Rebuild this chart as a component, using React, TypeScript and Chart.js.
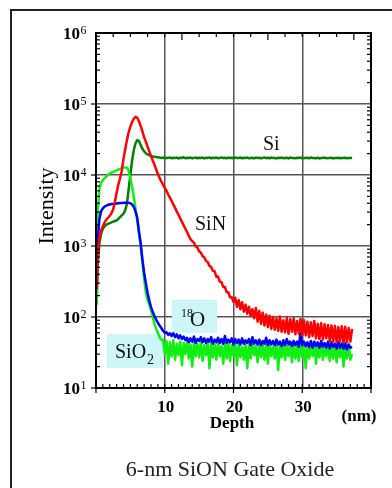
import { useEffect, useRef } from 'react';
import { Chart, registerables } from 'chart.js';

Chart.register(...registerables);

// Depth (nm) sampling of the profiles
const depth = [
  0.1,
  0.25, 0.5, 0.75, 1, 1.25, 1.5, 1.75, 2, 2.25, 2.5, 2.75, 3, 3.25, 3.5, 3.75, 4, 4.25, 4.5, 4.75, 5,
  5.25, 5.5, 5.75, 6, 6.25, 6.5, 6.75, 7, 7.25, 7.5, 7.75, 8, 8.25, 8.5, 8.75, 9, 9.25, 9.5, 9.75, 10,
  10.25, 10.5, 10.75, 11, 11.25, 11.5, 11.75, 12, 12.25, 12.5, 12.75, 13, 13.25, 13.5, 13.75, 14, 14.25, 14.5, 14.75, 15,
  15.25, 15.5, 15.75, 16, 16.25, 16.5, 16.75, 17, 17.25, 17.5, 17.75, 18, 18.25, 18.5, 18.75, 19, 19.25, 19.5, 19.75, 20,
  20.25, 20.5, 20.75, 21, 21.25, 21.5, 21.75, 22, 22.25, 22.5, 22.75, 23, 23.25, 23.5, 23.75, 24, 24.25, 24.5, 24.75, 25,
  25.25, 25.5, 25.75, 26, 26.25, 26.5, 26.75, 27, 27.25, 27.5, 27.75, 28, 28.25, 28.5, 28.75, 29, 29.25, 29.5, 29.75, 30,
  30.25, 30.5, 30.75, 31, 31.25, 31.5, 31.75, 32, 32.25, 32.5, 32.75, 33, 33.25, 33.5, 33.75, 34, 34.25, 34.5, 34.75, 35,
  35.25, 35.5, 35.75, 36, 36.25, 36.5, 36.75, 37, 37.25,
];

// SiN intensity (red)
const siN = [
  250,
  800, 1300, 1650, 1900, 2150, 2350, 2500, 2650, 2900, 3300, 4200, 5600, 7400, 9000, 11500, 17000, 23000, 31000, 40000, 48000,
  56000, 62000, 66000, 64000, 57000, 49000, 41000, 34000, 29500, 25000, 21500, 18500, 16000, 14000, 12000, 10300, 9100, 8100, 7300, 6600,
  6000, 5300, 4800, 4300, 3850, 3440, 3070, 2740, 2450, 2190, 1950, 1750, 1560, 1390, 1245, 1175, 1110, 985, 950, 840,
  810, 720, 695, 615, 595, 525, 508, 447, 440, 370, 372, 314, 312, 265, 264, 224, 224, 189, 190, 163,
  187, 139, 173, 129, 161, 119, 149, 111, 139, 103, 129, 96, 134, 86, 122, 80, 115, 76, 108, 72,
  104, 68, 100, 66, 95, 64, 102, 62, 90, 61, 97, 58, 93, 62, 96, 57, 88, 58, 94, 55,
  90, 55, 86, 52, 84, 54, 88, 50, 80, 49, 82, 48, 79, 50, 77, 46, 76, 45, 75, 44,
  72, 46, 74, 43, 73, 44, 70, 45, 68,
];

// 18O intensity (blue)
const o18 = [
  250,
  1200, 2400, 3100, 3400, 3600, 3700, 3800, 3850, 3900, 3920, 3950, 3980, 4000, 4020, 4030, 4050, 4060, 4070, 4050, 4000,
  3850, 3550, 3050, 2500, 1600, 1100, 650, 420, 300, 220, 170, 138, 118, 103, 92, 83, 76, 70, 64, 60,
  61, 56, 59, 54, 59, 52, 57, 50, 55, 49, 53, 47, 51, 44, 50, 45, 53, 43, 49, 46,
  52, 44, 50, 43, 49, 45, 52, 42, 48, 44, 51, 43, 49, 42, 54, 43, 48, 44, 50, 41,
  49, 43, 48, 41, 50, 42, 47, 43, 49, 40, 52, 42, 47, 41, 48, 40, 46, 42, 51, 40,
  47, 41, 46, 40, 48, 41, 45, 39, 47, 40, 49, 41, 45, 39, 46, 40, 45, 38, 60, 40,
  45, 39, 44, 38, 46, 37, 45, 39, 44, 37, 46, 38, 43, 37, 45, 36, 44, 38, 42, 36,
  45, 37, 42, 36, 43, 35, 41, 37, 38,
];

// SiO2 intensity (bright green)
const sio2 = [
  150,
  3000, 6500, 7800, 8500, 9000, 9500, 10000, 10500, 10800, 11000, 11300, 11600, 11900, 12200, 12500, 12700, 12800, 12700, 11500, 9000,
  6800, 4900, 3300, 2300, 1500, 970, 600, 350, 220, 175, 150, 126, 100, 80, 68, 60, 52, 48, 48, 30,
  46, 22, 44, 28, 47, 25, 42, 29, 45, 21, 43, 30, 46, 26, 41, 20, 44, 28, 42, 27,
  45, 24, 40, 29, 44, 19, 43, 27, 41, 25, 44, 28, 39, 22, 43, 26, 45, 24, 40, 28,
  43, 21, 42, 27, 38, 25, 44, 19, 41, 26, 43, 29, 39, 23, 42, 27, 40, 25, 43, 22,
  41, 28, 38, 26, 44, 18, 40, 27, 42, 25, 39, 28, 43, 23, 41, 26, 38, 24, 44, 27,
  40, 19, 42, 26, 39, 28, 43, 22, 40, 27, 42, 25, 38, 28, 41, 24, 39, 26, 42, 23,
  40, 27, 44, 20, 39, 26, 41, 25, 30,
];

// Si intensity (dark green)
const si = [
  150,
  550, 1100, 1500, 1750, 1900, 2000, 2050, 2100, 2150, 2200, 2250, 2300, 2400, 2550, 2700, 2850, 3200, 3900, 6300, 10000,
  16000, 22500, 28000, 31000, 30000, 26500, 23500, 21500, 20300, 19500, 19000, 18600, 18300, 18100, 17900, 17800, 17700, 17300, 17600, 17200,
  17500, 17400, 17700, 17200, 17500, 17300, 17600, 17100, 17500, 17400, 17800, 17200, 17500, 17300, 17600, 17200, 17400, 17700, 17200, 17500,
  17300, 17600, 17100, 17500, 17400, 17700, 17200, 17500, 17300, 17600, 17200, 17400, 17700, 17300, 17500, 17200, 17600, 17300, 17500, 17100,
  17600, 17400, 17300, 17700, 17200, 17500, 17300, 17600, 17200, 17400, 17500, 17100, 17600, 17300, 17500, 17200, 17400, 17700, 17300, 17500,
  17200, 17600, 17300, 17400, 17100, 17500, 17300, 17600, 17200, 17400, 17500, 17100, 17600, 17300, 17400, 17200, 17500, 17300, 17600, 17100,
  17400, 17300, 17500, 17200, 17600, 17300, 17400, 17200, 17500, 17100, 17400, 17300, 17600, 17200, 17400, 17300, 17500, 17100, 17400, 17300,
  17500, 17200, 17400, 17300, 17500, 17200, 17400, 17300, 17300,
];

const xTickLabels = [10, 20, 30];
const yTickExponents = [1, 2, 3, 4, 5, 6];

const SERIF = '"Liberation Serif", "Times New Roman", serif';
const BOX = '#ccf6f8';

const toPoints = (vals: number[]) => depth.map((d, i) => ({ x: d, y: vals[i] }));

const overlay = {
  id: 'overlay',
  beforeDatasetsDraw(chart: any) {
    const ctx = chart.ctx as CanvasRenderingContext2D;
    ctx.save();
    ctx.fillStyle = BOX;
    ctx.fillRect(172, 300, 45, 33);
    ctx.fillRect(107, 334, 56, 34);
    ctx.fillStyle = '#111';
    ctx.textAlign = 'left';
    ctx.textBaseline = 'alphabetic';
    ctx.font = `12px ${SERIF}`;
    ctx.fillText('18', 181, 317);
    ctx.font = `21px ${SERIF}`;
    ctx.fillText('O', 190, 326);
    ctx.font = `20px ${SERIF}`;
    ctx.fillText('SiO', 115, 358);
    ctx.font = `14px ${SERIF}`;
    ctx.fillText('2', 147, 364);
    ctx.font = `20px ${SERIF}`;
    ctx.fillText('Si', 263, 150);
    ctx.fillText('SiN', 195, 230);
    ctx.restore();
  },
  afterDraw(chart: any) {
    const ctx = chart.ctx as CanvasRenderingContext2D;
    const xs = chart.scales.x;
    const ys = chart.scales.y;
    const { left, right, top, bottom } = chart.chartArea;
    const line = (x1: number, y1: number, x2: number, y2: number) => {
      ctx.beginPath();
      ctx.moveTo(x1, y1);
      ctx.lineTo(x2, y2);
      ctx.stroke();
    };
    ctx.save();
    ctx.strokeStyle = '#000';
    ctx.lineWidth = 1.2;
    for (let v = 1; v < 40; v++) {
      const px = xs.getPixelForValue(v);
      line(px, bottom, px, bottom - 4);
    }
    for (const v of [0, 10, 20, 30, 40]) {
      const px = xs.getPixelForValue(v);
      line(px, bottom, px, bottom + 5);
    }
    for (let n = 1; n <= 15; n++) {
      const px = xs.getPixelForValue(2.5 * n);
      line(px, top, px, top + (n % 5 === 0 ? 7 : 4));
    }
    for (let e = 1; e <= 5; e++) {
      for (let m = 2; m <= 9; m++) {
        const py = ys.getPixelForValue(m * Math.pow(10, e));
        line(left, py, left + 4, py);
        line(right, py, right - 4, py);
      }
      const py = ys.getPixelForValue(Math.pow(10, e));
      line(left - 5, py, left, py);
    }
    ctx.lineWidth = 2;
    ctx.strokeRect(left, top, right - left, bottom - top);

    // outer frame
    ctx.strokeStyle = '#222';
    line(11, 10, 11, 488);
    line(10, 10, 392, 10);

    // y tick labels
    ctx.fillStyle = '#000';
    ctx.textBaseline = 'alphabetic';
    for (const e of yTickExponents) {
      const py = ys.getPixelForValue(Math.pow(10, e));
      ctx.textAlign = 'right';
      ctx.font = `bold 17px ${SERIF}`;
      ctx.fillText('10', 80, py + 6);
      ctx.textAlign = 'left';
      ctx.font = `12px ${SERIF}`;
      ctx.fillText(String(e), 80.5, py + 1);
    }
    // x tick labels
    ctx.textAlign = 'center';
    ctx.font = `bold 17px ${SERIF}`;
    for (const v of xTickLabels) {
      ctx.fillText(String(v), xs.getPixelForValue(v) + 1, 412);
    }
    ctx.fillText('Depth', 232, 428);
    ctx.fillText('(nm)', 359, 421);

    // y title
    ctx.save();
    ctx.translate(53, 206);
    ctx.rotate(-Math.PI / 2);
    ctx.font = `22px ${SERIF}`;
    ctx.textAlign = 'center';
    ctx.fillText('Intensity', 0, 0);
    ctx.restore();

    // caption
    ctx.fillStyle = '#222';
    ctx.font = `22px ${SERIF}`;
    ctx.textAlign = 'center';
    ctx.fillText('6-nm SiON Gate Oxide', 230, 476);
    ctx.restore();
  },
};

export default function App() {
  const ref = useRef<HTMLCanvasElement>(null);
  useEffect(() => {
    if (!ref.current) return;
    const chart = new Chart(ref.current, {
      type: 'line',
      data: {
        datasets: [
          { label: 'SiN', data: toPoints(siN), borderColor: '#ff0000' },
          { label: '18O', data: toPoints(o18), borderColor: '#0000ff' },
          { label: 'SiO2', data: toPoints(sio2), borderColor: '#11ee11' },
          { label: 'Si', data: toPoints(si), borderColor: '#008000' },
        ],
      },
      options: {
        responsive: false,
        animation: false,
        devicePixelRatio: 1,
        events: [],
        layout: { padding: { top: 33, right: 21, left: 0, bottom: 0 } },
        elements: {
          point: { radius: 0 },
          line: { tension: 0, borderWidth: 2.5, borderJoinStyle: 'round', fill: false },
        },
        plugins: { legend: { display: false }, tooltip: { enabled: false } },
        scales: {
          x: {
            type: 'linear',
            min: 0,
            max: 40,
            afterBuildTicks: (s: any) => {
              s.ticks = [0, 10, 20, 30, 40].map((v) => ({ value: v }));
            },
            afterFit: (s: any) => {
              s.height = 100;
            },
            ticks: { display: false },
            border: { display: false },
            grid: {
              drawTicks: false,
              lineWidth: 1.5,
              color: (c: any) => (c.tick && c.tick.value > 0 && c.tick.value < 40 ? '#555' : 'rgba(0,0,0,0)'),
            },
          },
          y: {
            type: 'logarithmic',
            min: 10,
            max: 1e6,
            afterBuildTicks: (s: any) => {
              s.ticks = yTickExponents.map((e) => ({ value: Math.pow(10, e) }));
            },
            afterFit: (s: any) => {
              s.width = 96;
            },
            ticks: { display: false },
            border: { display: false },
            grid: {
              drawTicks: false,
              lineWidth: 1.5,
              color: (c: any) => (c.tick && c.tick.value > 10 && c.tick.value < 1e6 ? '#555' : 'rgba(0,0,0,0)'),
            },
          },
        },
      },
      plugins: [overlay],
    });
    return () => chart.destroy();
  }, []);
  return (
    <div style={{ position: 'absolute', left: 0, top: 0, width: 392, height: 488, background: '#fff' }}>
      <canvas ref={ref} width={392} height={488} style={{ display: 'block' }} />
    </div>
  );
}
